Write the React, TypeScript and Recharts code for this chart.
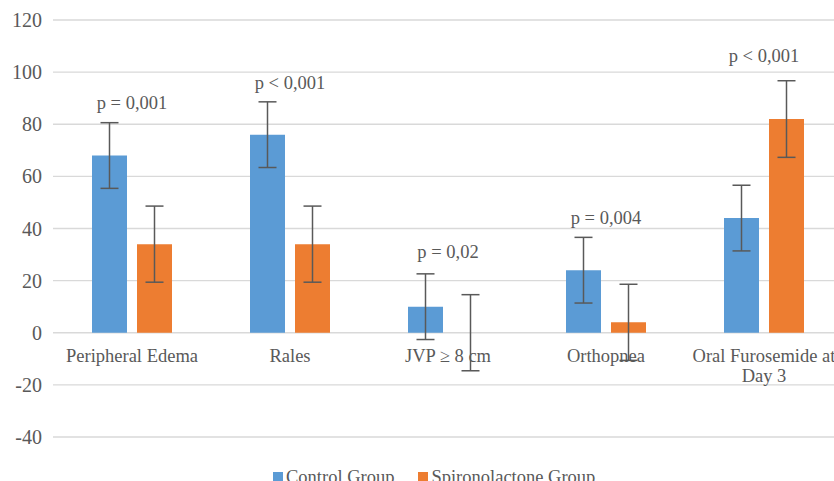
import { Bar, CartesianGrid, ComposedChart, ErrorBar, LabelList, Legend, Line, XAxis, YAxis } from "recharts";

const categories = ["Peripheral Edema", "Rales", "JVP ≥ 8 cm", "Orthopnea", "Oral Furosemide at\nDay 3"];
const controlValues = [68, 76, 10, 24, 44];
const controlErrors = [12.6, 12.6, 12.6, 12.6, 12.6];
// JVP spironolactone bar is flat at the zero line; a hair above 0 keeps its error bar drawn
const spiroValues = [34, 34, 0.01, 4, 82];
const spiroErrors = [14.6, 14.6, 14.6, 14.6, 14.7];
const pTexts = ["p = 0,001", "p < 0,001", "p = 0,02", "p = 0,004", "p < 0,001"];
const pLabelLevels = [88, 96, 31, 44, 106];
const yTicks = [-40, -20, 0, 20, 40, 60, 80, 100, 120];

const BLUE = "#5B9BD5";
const ORANGE = "#ED7D31";
const TEXT = "#595959";
const FONT = "'Liberation Serif', 'Times New Roman', serif";

const data = categories.map((name, i) => ({
  name,
  control: controlValues[i],
  controlErr: controlErrors[i],
  spiro: spiroValues[i],
  spiroErr: spiroErrors[i],
  p: pTexts[i],
  pY: pLabelLevels[i],
  base: 0,
}));

const pointOf = (props: any) => {
  const vb = props.viewBox || {};
  return { x: props.x ?? vb.x, y: props.y ?? vb.y };
};

const PLabel = (props: any) => {
  const { x, y } = pointOf(props);
  return <text x={x} y={y} textAnchor="middle" dominantBaseline="central"
    fontFamily={FONT} fontSize={18.5} fill={TEXT}>{props.value}</text>;
};

const CategoryLabel = (props: any) => {
  const { x, y } = pointOf(props);
  const lines = String(props.value).split("\n");
  return <text x={x} y={y + 23} textAnchor="middle" dominantBaseline="central"
    fontFamily={FONT} fontSize={18.5} fill={TEXT}>
    {lines.map((l, i) => <tspan key={i} x={x} dy={i === 0 ? 0 : 20}>{l}</tspan>)}
  </text>;
};

const YTick = ({ x, y, payload }: any) => (
  <text x={x} y={y} textAnchor="end" dominantBaseline="central"
    fontFamily={FONT} fontSize={20} fill={TEXT}>{payload.value}</text>
);

const LegendContent = () => (
  <div style={{ display: "flex", fontFamily: FONT, fontSize: 18.5, color: TEXT, whiteSpace: "nowrap", lineHeight: "22px" }}>
    {[["Control Group", BLUE], ["Spironolactone Group", ORANGE]].map(([label, color], i) => (
      <div key={label} style={{ display: "flex", alignItems: "center", marginRight: i === 0 ? 24 : 0 }}>
        <span style={{ width: 10, height: 10, background: color, marginRight: 3, display: "inline-block" }} />
        <span>{label}</span>
      </div>
    ))}
  </div>
);

export default function App() {
  return (
    <div style={{ position: "fixed", left: 0, top: 0, width: 834, height: 481, overflow: "hidden", background: "#fff" }}>
      <ComposedChart width={850} height={481} data={data}
        margin={{ top: 20, right: 7, bottom: 22, left: 0 }} barSize={35} barGap={10}>
        <CartesianGrid vertical={false} stroke="#d9d9d9" strokeWidth={1.3} />
        <XAxis dataKey="name" hide />
        <YAxis domain={[-40, 120]} ticks={yTicks} axisLine={false} tickLine={false} tickSize={0} tickMargin={11}
          width={53} interval={0} tick={<YTick />} />
        <Legend content={<LegendContent />} wrapperStyle={{ left: 273, top: 466, width: "auto", height: 22 }} />
        <Bar dataKey="control" name="Control Group" fill={BLUE} isAnimationActive={false}>
          <ErrorBar dataKey="controlErr" width={9} stroke={TEXT} strokeWidth={1.5} />
        </Bar>
        <Bar dataKey="spiro" name="Spironolactone Group" fill={ORANGE} isAnimationActive={false}>
          <ErrorBar dataKey="spiroErr" width={9} stroke={TEXT} strokeWidth={1.5} />
        </Bar>
        <Line dataKey="pY" stroke="none" dot={false} activeDot={false} legendType="none" isAnimationActive={false}>
          <LabelList dataKey="p" content={PLabel} />
        </Line>
        <Line dataKey="base" stroke="none" dot={false} activeDot={false} legendType="none" isAnimationActive={false}>
          <LabelList dataKey="name" content={CategoryLabel} />
        </Line>
      </ComposedChart>
    </div>
  );
}
